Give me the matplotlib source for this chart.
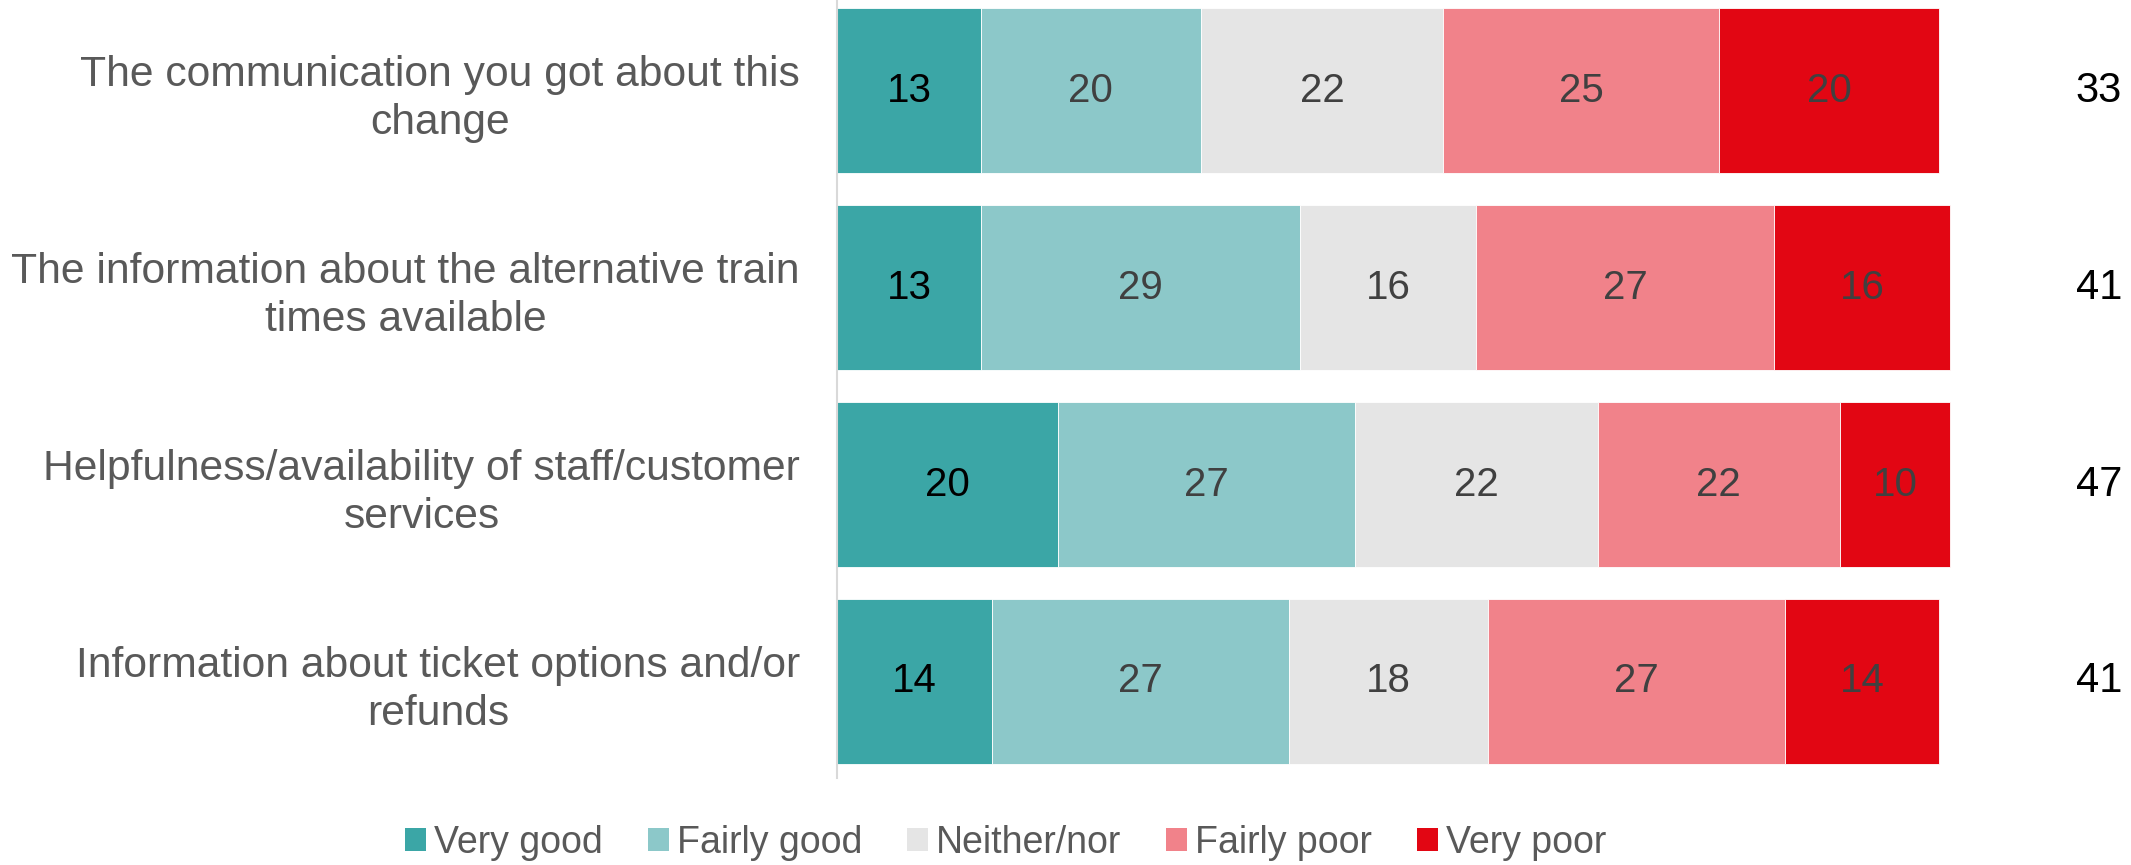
import matplotlib
matplotlib.use("Agg")
import matplotlib.pyplot as plt
from matplotlib.patches import Patch
import matplotlib.transforms as mtransforms
import numpy as np

plt.rcParams["font.family"] = ["Liberation Sans", "DejaVu Sans"]

# Survey items and response shares (%)
categories = [
    "The communication you got about this\nchange",
    "The information about the alternative train\ntimes available",
    "Helpfulness/availability of staff/customer\nservices",
    "Information about ticket options and/or\nrefunds",
]
responses = ["Very good", "Fairly good", "Neither/nor", "Fairly poor", "Very poor"]
very_good = [13, 13, 20, 14]
fairly_good = [20, 29, 27, 27]
neither_nor = [22, 16, 22, 18]
fairly_poor = [25, 27, 22, 27]
very_poor = [20, 16, 10, 14]
net_good = [33, 41, 47, 41]

colors = ["#3BA6A6", "#8CC8C9", "#E5E5E5", "#F1828A", "#E20613"]
label_colors = ["#000000", "#404040", "#404040", "#404040", "#404040"]

series = [very_good, fairly_good, neither_nor, fairly_poor, very_poor]

fig = plt.figure(figsize=(21.31, 8.65), dpi=100)
ax = fig.add_axes([0.393, 0.1006, 0.910 - 0.393, 0.8994])

y = np.arange(len(categories))
left = np.zeros(len(categories))
for vals, col, lcol, name in zip(series, colors, label_colors, responses):
    vals = np.array(vals, dtype=float)
    ax.barh(y, vals, left=left, height=0.84, color=col, edgecolor="white",
            linewidth=0.6, label=name, clip_on=False)
    for yi, (l, v) in enumerate(zip(left, vals)):
        ax.text(l + v / 2, yi, f"{int(v)}", ha="center", va="center",
                fontsize=29, color=lcol)
    left += vals

# Net "good" totals to the right of the bars
trans = mtransforms.blended_transform_factory(ax.transAxes, ax.transData)
for yi, v in enumerate(net_good):
    ax.text(1.145, yi, f"{v}", transform=trans, ha="center", va="center",
            fontsize=30, color="#000000", clip_on=False)

ax.set_xlim(0, 100)
ax.set_ylim(3.49, -0.46)
ax.set_yticks(y)
ax.set_yticklabels(categories, fontsize=30.7, color="#595959",
                   multialignment="center", linespacing=1.25)
ax.tick_params(axis="y", length=0, pad=27)
ax.set_xticks([])
for side in ["top", "right", "bottom"]:
    ax.spines[side].set_visible(False)
ax.spines["left"].set_color("#D9D9D9")
ax.spines["left"].set_linewidth(1.5)

handles = [Patch(facecolor=c, edgecolor="none") for c in colors]
fig.legend(handles, responses, loc="center", bbox_to_anchor=(0.472, 0.026),
           ncol=5, frameon=False, fontsize=27, labelcolor="#595959",
           handlelength=0.55, handleheight=0.55, handletextpad=0.22,
           columnspacing=1.2)

fig.savefig("out.png", dpi=100, facecolor="white")
